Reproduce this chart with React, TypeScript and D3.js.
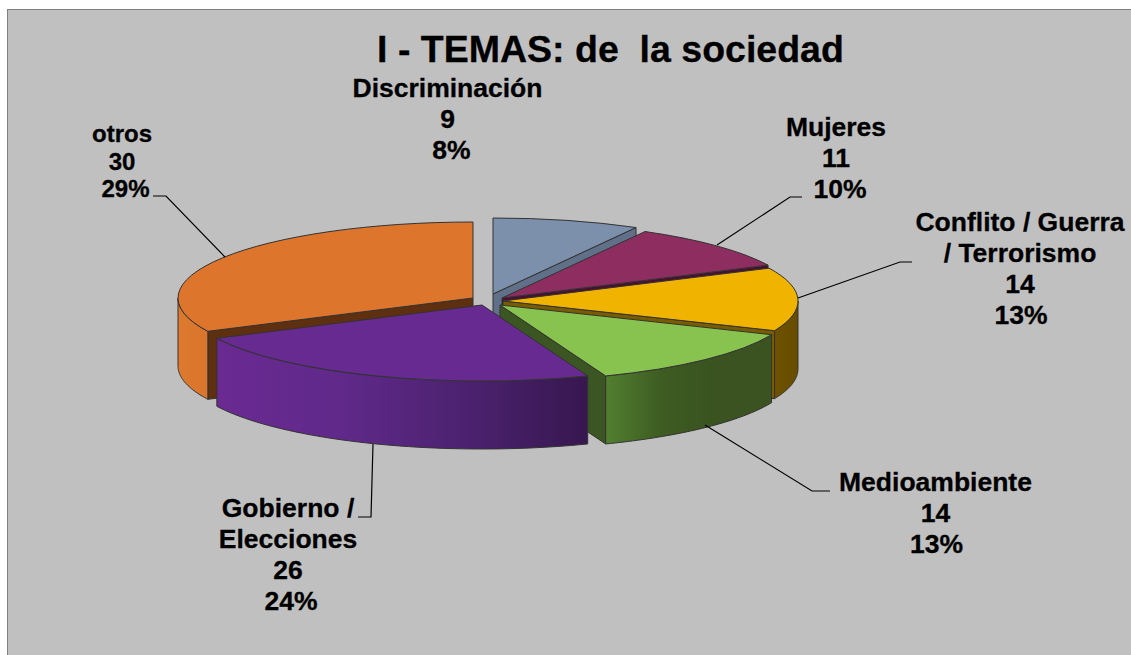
import * as d3 from "d3";

const W = 1131, H = 655;

const CATEGORIES = ["Discriminación", "Mujeres", "Conflito / Guerra / Terrorismo", "Medioambiente", "Gobierno / Elecciones", "otros"];
const VALUES = [9, 11, 14, 14, 26, 30];
const PERCENTS = ["8%", "10%", "13%", "13%", "24%", "29%"];
const NAME_LINES = [["Discriminación"], ["Mujeres"], ["Conflito / Guerra", "/ Terrorismo"], ["Medioambiente"], ["Gobierno /", "Elecciones"], ["otros"]];

const TOP_COLORS = ["#7c8fab", "#8e2d5f", "#f0b400", "#88c34f", "#662a91", "#dd752c"];
const CUT_COLORS = ["#5f7088", "#4a1030", "#7a5c00", "#3b5622", "#3a1a55", "#5f3010"];
const WALL_STOPS = [
  ["#6d7f98", "#5f7088"],
  ["#6d2349", "#5a1c3c"],
  ["#6e5200", "#674c00"],
  ["#527f30", "#3d5c22", "#3a5320", "#3a5320"],
  ["#6a2a92", "#60298a", "#4c2270", "#37174f"],
  ["#de7a2e", "#d9752c"],
];

// exploded pie: apex of each slice on screen
const CENTERS: [number, number][] = [[493, 294], [502, 298], [503, 301], [500, 305], [482, 305], [473, 298]];
const RX = 295, RY = 76, DEPTH = 68;
// the 3D perspective bends the angles, so pie angle -> drawn angle (degrees)
const PIE_DEG = [0, 31.15, 69.23, 117.7, 166.15, 256.15, 360];
const DRAWN_DEG = [0, 29, 64.4, 113, 159, 244, 360];

const angleScale = d3.scaleLinear().domain(PIE_DEG).range(DRAWN_DEG);
const rad = (d: number) => (d * Math.PI) / 180;

const pie = d3.pie<number>().sort(null).value(d => d);
const ARCS = pie(VALUES).map((a, i) => ({
  i,
  start: rad(angleScale((a.startAngle * 180) / Math.PI)),
  end: rad(angleScale((a.endAngle * 180) / Math.PI)),
}));

// label layout
const LABEL_POS: [number, number][] = [[447.5, 97], [836, 136], [1020, 231], [935.5, 491], [288, 517], [122, 142]];
const LABEL_SIZE = [26.5, 26.5, 26.5, 26.5, 26.5, 24];
const LABEL_LINE_H = [31, 31, 31, 31, 31, 27.5];
const PERCENT_DX = [4, 4, 1, 1, 3, 3.5];
const LEADERS: ([number, number][] | null)[] = [
  null,
  [[802, 197], [790, 197], [717, 245]],
  [[912, 262], [900, 262], [798, 298]],
  [[830, 491], [812, 491], [705, 425]],
  [[358, 517], [371, 517], [373, 444]],
  [[153, 196], [166, 196], [225, 257]],
];
const DRAW_ORDER = [0, 5, 1, 2, 3, 4];
const STROKE = "#333";

const line = d3.line();

function rim(i: number, a: number, dy = 0): [number, number] {
  const [cx, cy] = CENTERS[i];
  return [cx + RX * Math.sin(a), cy - RY * Math.cos(a) + dy];
}

function rimRun(i: number, a0: number, a1: number, dy: number) {
  const n = 48;
  return d3.range(n + 1).map(k => rim(i, a0 + ((a1 - a0) * k) / n, dy));
}

function Slice({ i, start, end }: { i: number; start: number; end: number }) {
  const [cx, cy] = CENTERS[i];
  const top = d3.arc()({ innerRadius: 0, outerRadius: 100, startAngle: start, endAngle: end } as any) as string;
  const cutAngle = end < Math.PI ? end : start > Math.PI ? start : null;
  const wallFrom = Math.max(start, Math.PI / 2);
  const wallTo = Math.min(end, rad(270));
  const hasWall = wallTo > wallFrom;
  const cut = cutAngle === null ? null : line([[cx, cy], rim(i, cutAngle), rim(i, cutAngle, DEPTH), [cx, cy + DEPTH]]) + "Z";
  const wall = hasWall
    ? line([...rimRun(i, wallFrom, wallTo, 0), ...rimRun(i, wallTo, wallFrom, DEPTH)]) + "Z"
    : null;
  const xs = hasWall ? d3.extent(rimRun(i, wallFrom, wallTo, 0), p => p[0]) : [0, 1];
  const stops = WALL_STOPS[i];
  return (
    <g>
      <defs>
        <linearGradient id={`wall-${i}`} gradientUnits="userSpaceOnUse" x1={xs[0]} x2={xs[1]} y1={0} y2={0}>
          {stops.map((c, k) => <stop key={k} offset={k / (stops.length - 1)} stopColor={c} />)}
        </linearGradient>
      </defs>
      {cut && <path d={cut} fill={CUT_COLORS[i]} stroke={STROKE} strokeWidth={1} strokeLinejoin="round" />}
      {wall && <path d={wall} fill={`url(#wall-${i})`} stroke={STROKE} strokeWidth={1} strokeLinejoin="round" />}
      <path
        d={top}
        transform={`translate(${cx},${cy}) scale(${RX / 100},${RY / 100})`}
        fill={TOP_COLORS[i]}
        stroke={STROKE}
        strokeWidth={1}
        vectorEffect="non-scaling-stroke"
        strokeLinejoin="round"
      />
    </g>
  );
}

export default function App() {
  return (
    <svg width={W} height={H} style={{ position: "absolute", left: 0, top: 0, display: "block" }}
      fontFamily="'Liberation Sans', Arial, sans-serif" fontWeight="bold" fill="#000">
      <rect x={0} y={0} width={W} height={H} fill="#fff" />
      <rect x={7.5} y={9.5} width={W} height={H} fill="#c0c0c0" stroke="#808080" strokeWidth={1} />

      <text x={610.5} y={62} fontSize={37.5} textAnchor="middle" stroke="#000" strokeWidth={0.3} style={{ whiteSpace: "pre" }}>I - TEMAS: de  la sociedad</text>

      {DRAW_ORDER.map(k => <Slice key={k} {...ARCS[k]} />)}

      {LEADERS.map((pts, i) => pts && (
        <path key={i} d={line(pts) as string} fill="none" stroke="#000" strokeWidth={1.2} />
      ))}

      {CATEGORIES.map((cat, i) => {
        const lines = [...NAME_LINES[i], String(VALUES[i]), PERCENTS[i]];
        return (
          <text key={cat} textAnchor="middle" fontSize={LABEL_SIZE[i]} stroke="#000" strokeWidth={0.3}>
            {lines.map((t, k) => (
              <tspan key={k} x={LABEL_POS[i][0] + (k === lines.length - 1 ? PERCENT_DX[i] : 0)} y={LABEL_POS[i][1] + k * LABEL_LINE_H[i]}>{t}</tspan>
            ))}
          </text>
        );
      })}
    </svg>
  );
}
